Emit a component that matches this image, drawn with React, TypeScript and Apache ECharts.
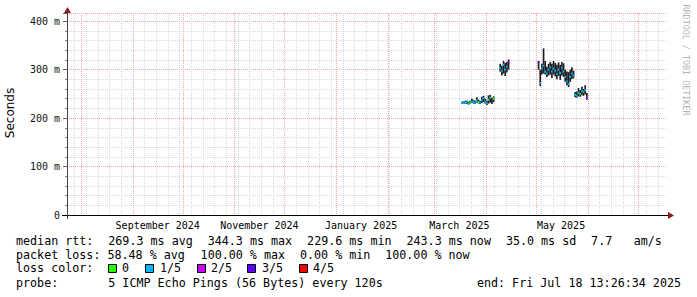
import { useEffect, useRef } from 'react';
import * as echarts from 'echarts';

const DAY_MS = 86400000;
const END_TIME = Date.UTC(2025, 6, 18, 13, 26, 34);
const RANGE_DAYS = 360;
const START_TIME = END_TIME - RANGE_DAYS * DAY_MS;

const Y_MAX = 417;
const Y_INTERVAL = 100;

const X_LABEL_DATES = ['2024-09-16', '2024-11-16', '2025-01-16', '2025-03-16', '2025-05-16'];
const X_LABEL_TEXTS = ['September 2024', 'November 2024', 'January 2025', 'March 2025', 'May 2025'];
const MONTH_GRID_DATES = [
  '2024-08-01', '2024-09-01', '2024-10-01', '2024-11-01', '2024-12-01', '2025-01-01',
  '2025-02-01', '2025-03-01', '2025-04-01', '2025-05-01', '2025-06-01', '2025-07-01',
];
const FIRST_WEEK_GRID = '2024-07-28';

// daily samples, grouped in runs starting at these dates
const CLUSTER_START = ['2025-03-17', '2025-04-09', '2025-05-02', '2025-05-24'];
const MEDIAN_MS = [
  [231, 232, 233, 232, 230, 232, 234, 233, 232, 236, 233, 232, 237, 241, 234, 231, 238, 242, 236, 240],
  [303, 298, 310, 300, 306, 315],
  [316, 272, 303, 308, 296, 292, 300, 305, 296, 302, 298, 291, 300, 293, 304, 296, 285, 276, 270, 285, 292, 288],
  [248, 246, 252, 250, 256, 254, 258, 243],
];
const SMOKE_LOW_MS = [
  [229, 230, 230, 229, 228, 230, 231, 230, 229, 232, 230, 229, 231, 233, 230, 227, 230, 232, 229, 233],
  [296, 288, 292, 287, 294, 300],
  [300, 266, 290, 292, 290, 285, 288, 290, 283, 290, 286, 280, 287, 279, 288, 285, 275, 268, 264, 275, 281, 282],
  [243, 242, 245, 244, 247, 246, 249, 238],
];
const SMOKE_HIGH_MS = [
  [234, 235, 236, 236, 234, 236, 240, 237, 236, 243, 238, 236, 244, 246, 240, 236, 247, 248, 242, 245],
  [312, 308, 318, 314, 316, 321],
  [318, 300, 312, 344, 318, 306, 312, 316, 312, 318, 314, 310, 315, 310, 316, 313, 300, 296, 295, 300, 305, 298],
  [254, 255, 262, 258, 265, 260, 268, 252],
];
const LOSS_OF_5 = [
  [1, 1, 1, 1, 1, 0, 1, 1, 1, 1, 0, 1, 1, 1, 1, 1, 0, 1, 3, 0],
  [1, 1, 1, 1, 1, 3],
  [3, 1, 1, 1, 1, 1, 1, 1, 1, 1, 1, 1, 1, 1, 1, 1, 1, 1, 1, 1, 1, 1],
  [1, 1, 1, 0, 1, 1, 1, 2],
];

const LOSS_COLORS = ['#26ff00', '#00b8ff', '#c800ff', '#5e00ff', '#ff0000'];
const LOSS_LABELS = ['0', '1/5', '2/5', '3/5', '4/5'];
const LOSS_BOX_X = [108, 145, 197, 247, 299];
const LOSS_LABEL_X = [122, 160, 211, 262, 313];

const LEGEND_RTT = 'median rtt:  269.3 ms avg  344.3 ms max  229.6 ms min  243.3 ms now  35.0 ms sd  7.7   am/s';
const LEGEND_LOSS = 'packet loss: 58.48 % avg  100.00 % max  0.00 % min  100.00 % now';
const LEGEND_COLOR_TITLE = 'loss color:';
const LEGEND_PROBE = 'probe:       5 ICMP Echo Pings (56 Bytes) every 120s';
const END_TEXT = 'end: Fri Jul 18 13:26:34 2025';
const Y_TITLE = 'Seconds';
const WATERMARK = 'RRDTOOL / TOBI OETIKER';

const MONO = '"DejaVu Sans Mono", "Liberation Mono", monospace';
const CW = 7.1;
const LEG_X = 16;
const LEG_FS = 11.7;
const GRID_GREY = '#dadada';
const GRID_RED = '#f0a4a4';

function segments(line: string) {
  const out: { text: string; col: number }[] = [];
  const re = /\S+(?: \S+)*/g;
  let m: RegExpExecArray | null;
  while ((m = re.exec(line))) out.push({ text: m[0], col: m.index });
  return out;
}

function legendLine(line: string, y: number) {
  return segments(line).map((s) => ({
    type: 'text',
    x: LEG_X + s.col * CW,
    y,
    silent: true,
    style: { text: s.text, fontSize: LEG_FS, fontFamily: MONO, fill: '#000', verticalAlign: 'middle', align: 'left' },
  }));
}

export default function App() {
  const ref = useRef<HTMLDivElement>(null);
  useEffect(() => {
    if (!ref.current) return;
    const chart = echarts.init(ref.current, undefined, { renderer: 'svg' });

    const labelTs = X_LABEL_DATES.map((d) => Date.parse(d + 'T00:00:00Z'));
    const monthTs = MONTH_GRID_DATES.map((d) => Date.parse(d + 'T00:00:00Z'));
    const weekTs: number[] = [];
    for (let t = Date.parse(FIRST_WEEK_GRID + 'T00:00:00Z'); t < END_TIME; t += 7 * DAY_MS) weekTs.push(t);

    const samples: number[][] = [];
    CLUSTER_START.forEach((start, c) => {
      const t0 = Date.parse(start + 'T00:00:00Z');
      MEDIAN_MS[c].forEach((med, i) => {
        samples.push([t0 + i * DAY_MS, SMOKE_LOW_MS[c][i], SMOKE_HIGH_MS[c][i], med, LOSS_OF_5[c][i]]);
      });
    });

    const vGrid = (color: string) => (params: any, api: any) => {
      const x = Math.round(api.coord([api.value(0), 0])[0]) + 0.5;
      const cs = params.coordSys;
      return {
        type: 'line',
        shape: { x1: x, y1: cs.y, x2: x, y2: cs.y + cs.height },
        style: { stroke: color, lineWidth: 1, lineDash: [1, 1] },
        silent: true,
      };
    };

    const graphics: any[] = [
      { type: 'line', shape: { x1: 62, y1: 215.5, x2: 668, y2: 215.5 }, style: { stroke: '#000', lineWidth: 1 }, z: 10 },
      { type: 'line', shape: { x1: 67.5, y1: 219, x2: 67.5, y2: 10 }, style: { stroke: '#444', lineWidth: 1 }, z: 10 },
      { type: 'polygon', shape: { points: [[668, 212], [674, 215.5], [668, 219]] }, style: { fill: '#8b1a1a' }, z: 10 },
      { type: 'polygon', shape: { points: [[64, 13], [67.5, 7], [71, 13]] }, style: { fill: '#8b1a1a' }, z: 10 },
      {
        type: 'text', x: 10, y: 113, rotation: Math.PI / 2, silent: true,
        style: { text: Y_TITLE, fontSize: 12, fontFamily: '"DejaVu Sans", sans-serif', fill: '#000', align: 'center', verticalAlign: 'middle' },
      },
      {
        type: 'text', x: 686, y: 60, rotation: -Math.PI / 2, silent: true,
        style: { text: WATERMARK, fontSize: 8.4, fontFamily: MONO, fill: '#b4b4b4', align: 'center', verticalAlign: 'middle' },
      },
      ...legendLine(LEGEND_RTT, 241),
      ...legendLine(LEGEND_LOSS, 255),
      ...legendLine(LEGEND_COLOR_TITLE, 268),
      ...legendLine(LEGEND_PROBE, 283),
      {
        type: 'text', x: 681, y: 283, silent: true,
        style: { text: END_TEXT, fontSize: LEG_FS, fontFamily: MONO, fill: '#000', align: 'right', verticalAlign: 'middle' },
      },
    ];
    LOSS_LABELS.forEach((lab, i) => {
      graphics.push({
        type: 'rect', shape: { x: LOSS_BOX_X[i] + 0.5, y: 264.5, width: 8, height: 8 },
        style: { fill: LOSS_COLORS[i], stroke: '#000', lineWidth: 1 }, silent: true,
      });
      graphics.push({
        type: 'text', x: LOSS_LABEL_X[i], y: 268, silent: true,
        style: { text: lab, fontSize: LEG_FS, fontFamily: MONO, fill: '#000', align: 'left', verticalAlign: 'middle' },
      });
    });

    chart.setOption({
      animation: false,
      backgroundColor: '#fff',
      grid: { left: 67, top: 13, width: 600, height: 202, containLabel: false },
      xAxis: {
        type: 'value',
        min: START_TIME,
        max: END_TIME,
        axisLine: { show: false },
        axisTick: { show: false },
        splitLine: { show: false },
        axisLabel: {
          customValues: labelTs,
          margin: 5,
          fontSize: 10,
          fontFamily: MONO,
          color: '#000',
          formatter: (v: number) => {
            const i = labelTs.findIndex((t) => Math.abs(t - v) < 60000);
            return i >= 0 ? X_LABEL_TEXTS[i] : '';
          },
        },
      },
      yAxis: {
        type: 'value',
        min: 0,
        max: Y_MAX,
        interval: Y_INTERVAL,
        axisLine: { show: false },
        axisTick: { show: true, length: 4, lineStyle: { color: '#666' } },
        minorTick: { show: true, splitNumber: 5, length: 2, lineStyle: { color: '#888' } },
        splitLine: { show: true, lineStyle: { color: GRID_RED, width: 1, type: [1, 1] } },
        minorSplitLine: { show: true, lineStyle: { color: GRID_GREY, width: 1, type: [1, 1] } },
        axisLabel: {
          margin: 7,
          fontSize: 10,
          fontFamily: MONO,
          color: '#111',
          showMaxLabel: false,
          formatter: (v: number) => (v === 0 ? '0' : `${v} m`),
        },
      },
      series: [
        {
          type: 'custom',
          silent: true,
          z: 1,
          data: weekTs.map((t) => [t, 0]),
          renderItem: vGrid(GRID_GREY),
        },
        {
          type: 'custom',
          silent: true,
          z: 1,
          data: monthTs.map((t) => [t, 0]),
          renderItem: vGrid(GRID_RED),
        },
        {
          type: 'custom',
          silent: true,
          z: 3,
          data: samples,
          encode: { x: 0, y: [1, 2] },
          renderItem: (params: any, api: any) => {
            const t = api.value(0);
            const lo = api.coord([t, api.value(1)]);
            const hi = api.coord([t, api.value(2)]);
            const md = api.coord([t, api.value(3)]);
            const w = api.size([DAY_MS, 0])[0];
            const loss = api.value(4);
            return {
              type: 'group',
              children: [
                { type: 'rect', shape: { x: lo[0], y: hi[1], width: w, height: lo[1] - hi[1] }, style: { fill: '#1c1c1c' } },
                { type: 'rect', shape: { x: lo[0], y: md[1] - 1, width: w, height: 2 }, style: { fill: LOSS_COLORS[loss] } },
              ],
            };
          },
        },
      ],
      graphic: graphics,
    });
    return () => chart.dispose();
  }, []);
  return <div ref={ref} style={{ position: 'absolute', left: 0, top: 0, width: 697, height: 297 }} />;
}
